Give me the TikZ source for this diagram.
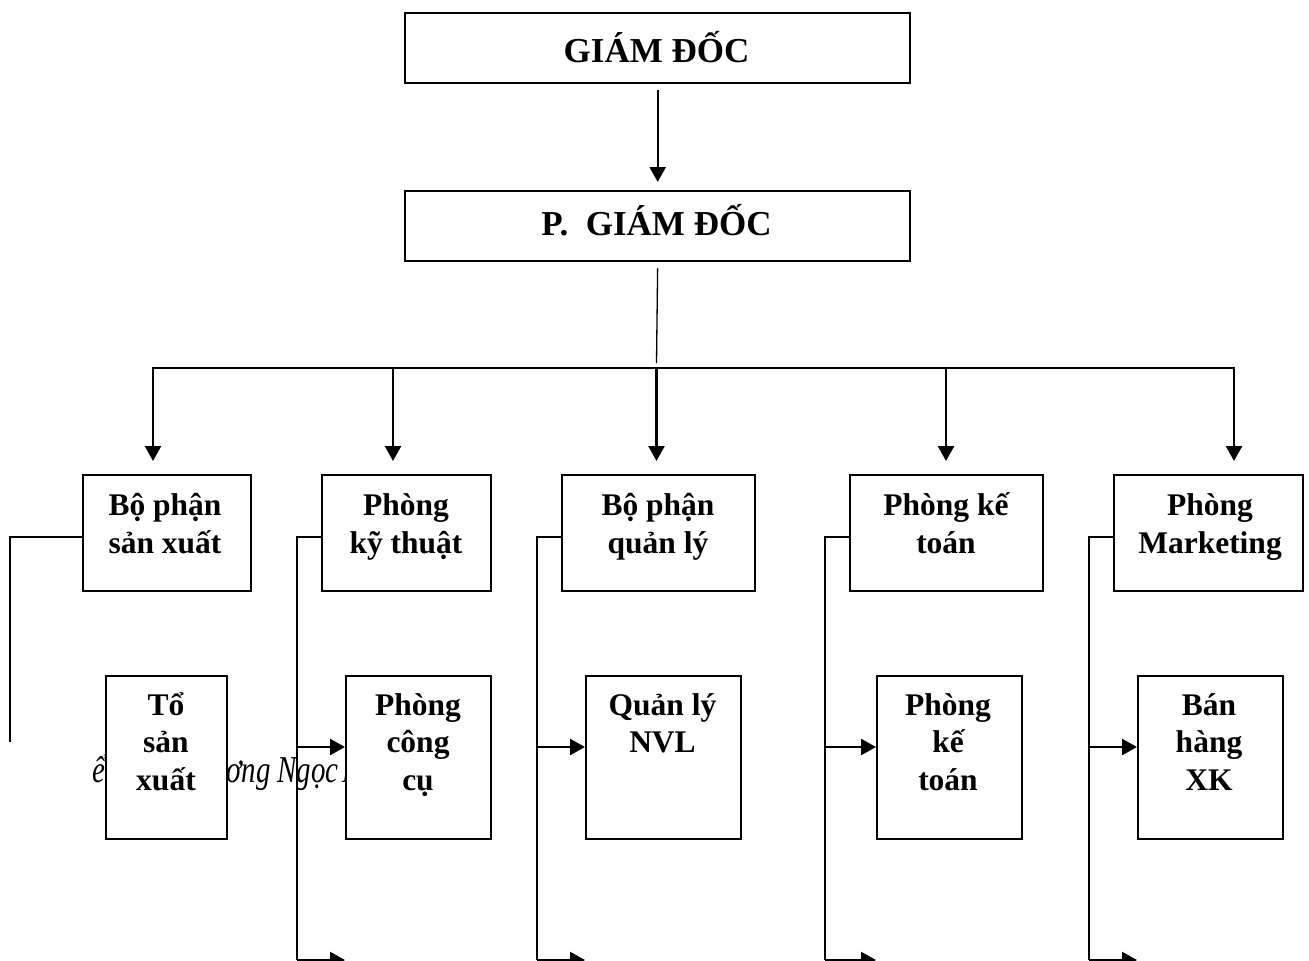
\documentclass[tikz,border=0pt]{standalone}
\usepackage{fontspec}
\setmainfont{Liberation Serif}
\usetikzlibrary{arrows.meta}
\begin{document}
\begin{tikzpicture}[x=1pt,y=-1pt,
  box/.style={draw,line width=2.4pt,fill=white,inner sep=0pt,anchor=north west},
  big/.style={anchor=base,inner sep=0pt,font=\bfseries\fontsize{35}{42}\selectfont},
  lbl/.style={anchor=north,inner sep=0pt,align=center,font=\bfseries\fontsize{31.5}{38}\selectfont},
  lblt/.style={anchor=north,inner sep=0pt,align=center,font=\bfseries\fontsize{31.5}{37.5}\selectfont},
  ln/.style={line width=2.4pt},
  thinln/.style={line width=1.3pt},
  arr/.style={line width=2.4pt,-{Triangle[width=16pt,length=15pt]}},
  wm/.style={anchor=base west,inner sep=0pt,font=\itshape\fontsize{38}{44}\selectfont}]

\fill[white] (0,0) rectangle (1309,961);
\useasboundingbox (0,0) rectangle (1309,961);

% background caption, partly covered by the boxes
\node[wm] (wmA) at (92,782) {\scalebox{0.76}[1]{ể}};
\node[wm] (wmB) at (226,782) {\scalebox{0.76}[1]{ơng Ngọc\hspace{-5pt} L}};

% top level
\node[box,minimum width=505,minimum height=70] (gd) at (404,12) {};
\node[big] (gdT) at (656.5,62) {GIÁM ĐỐC};
\node[box,minimum width=505,minimum height=70] (pgd) at (404,190) {};
\node[big] (pgdT) at (656.5,235) {P.\ \ GIÁM ĐỐC};

% departments
\node[box,minimum width=168,minimum height=116] (sx)  at (82,474) {};
\node[box,minimum width=169,minimum height=116] (kt)  at (321,474) {};
\node[box,minimum width=193,minimum height=116] (ql)  at (561,474) {};
\node[box,minimum width=193,minimum height=116] (kto) at (849,474) {};
\node[box,minimum width=189,minimum height=116] (mk)  at (1113,474) {};

\node[lbl] (sxT)  at (165,482)  {\rule{0pt}{33pt}Bộ phận\\sản xuất};
\node[lbl] (ktT)  at (406,482)  {\rule{0pt}{33pt}Phòng\\kỹ thuật};
\node[lbl] (qlT)  at (658,482)  {\rule{0pt}{33pt}Bộ phận\\quản lý};
\node[lbl] (ktoT) at (946,482)  {\rule{0pt}{33pt}Phòng kế\\toán};
\node[lbl] (mkT)  at (1210,482) {\rule{0pt}{33pt}Phòng\\Marketing};

% sections
\node[box,minimum width=121,minimum height=163] (tsx)  at (105,675) {};
\node[box,minimum width=145,minimum height=163] (ccu)  at (345,675) {};
\node[box,minimum width=155,minimum height=163] (nvl)  at (585,675) {};
\node[box,minimum width=145,minimum height=163] (kto2) at (876,675) {};
\node[box,minimum width=145,minimum height=163] (bh)   at (1137,675) {};

\node[lblt] (tsxT)  at (166,682)  {\rule{0pt}{33pt}Tổ\\sản\\xuất};
\node[lblt] (ccuT)  at (418,682)  {\rule{0pt}{33pt}Phòng\\công\\cụ};
\node[lblt] (nvlT)  at (662.5,682) {\rule{0pt}{33pt}Quản lý\\NVL};
\node[lblt] (kto2T) at (948,682)  {\rule{0pt}{33pt}Phòng\\kế\\toán};
\node[lblt] (bhT)   at (1209,682) {\rule{0pt}{33pt}Bán\\hàng\\XK};

% director to deputy director
\draw[arr,shorten <=6pt,shorten >=8pt] (gd) -- (pgd);

% deputy director to distribution bar
\coordinate (join) at (656.5,363);
\draw[thinln,shorten <=6pt] (pgd.south) -- (join);

\coordinate (t1) at (153,368);
\coordinate (t2) at (393,368);
\coordinate (t3) at (656.5,368);
\coordinate (t4) at (946,368);
\coordinate (t5) at (1234,368);
\draw[ln,line cap=rect] (t1) -- (t5);
\draw[arr,shorten >=13pt] (t1) -- (t1 |- sx.north);
\draw[arr,shorten >=13pt] (t2) -- (t2 |- kt.north);
\draw[arr,shorten >=13pt] (t3) -- (t3 |- ql.north);
\draw[arr,shorten >=13pt] (t4) -- (t4 |- kto.north);
\draw[arr,shorten >=13pt] (t5) -- (t5 |- mk.north);

% production branch
\coordinate (s1)  at (10,537);
\coordinate (s1e) at (10,742);
\draw[ln] (sx.west |- s1) -- (s1) -- (s1e);

% technical branch
\coordinate (v2)  at (297,537);
\coordinate (m2)  at (297,747);
\coordinate (v2e) at (297,960);
\draw[ln] (kt.west |- v2) -- (v2) -- (v2e);
\draw[arr] (m2) -- (m2 -| ccu.west);
\draw[arr] (v2e) -- (v2e -| ccu.west);

% management branch
\coordinate (v3)  at (537,537);
\coordinate (m3)  at (537,747);
\coordinate (v3e) at (537,960);
\draw[ln] (ql.west |- v3) -- (v3) -- (v3e);
\draw[arr] (m3) -- (m3 -| nvl.west);
\draw[arr] (v3e) -- (v3e -| nvl.west);

% accounting branch
\coordinate (v4)  at (825,537);
\coordinate (m4)  at (825,747);
\coordinate (v4e) at (825,960);
\draw[ln] (kto.west |- v4) -- (v4) -- (v4e);
\draw[arr] (m4) -- (m4 -| kto2.west);
\draw[arr] (v4e) -- (v4e -| kto2.west);

% marketing branch
\coordinate (v5)  at (1089,537);
\coordinate (m5)  at (1089,747);
\coordinate (v5e) at (1089,960);
\draw[ln] (mk.west |- v5) -- (v5) -- (v5e);
\draw[arr] (m5) -- (m5 -| bh.west);
\draw[arr] (v5e) -- (v5e -| bh.west);
\end{tikzpicture}
\end{document}
